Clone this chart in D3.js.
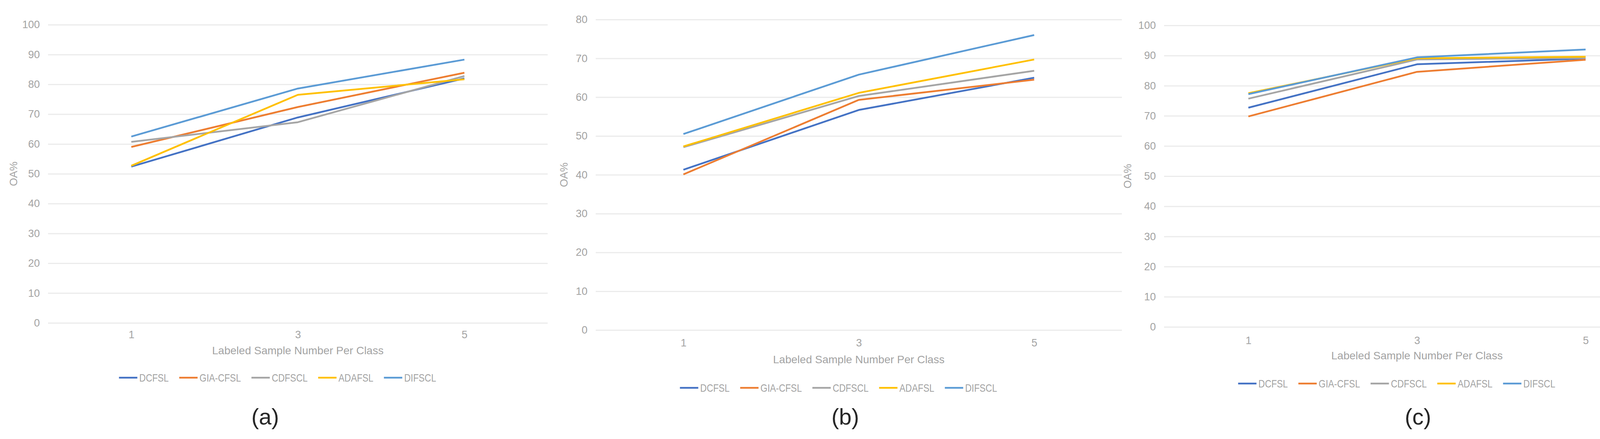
<!DOCTYPE html>
<html>
<head>
<meta charset="utf-8">
<script src="https://cdn.jsdelivr.net/npm/d3@7/dist/d3.min.js"></script>
<style>
  body { margin: 0; background: #ffffff; }
  svg { display: block; }
  text { font-family: "Liberation Sans", Arial, sans-serif; }
</style>
</head>
<body>
<svg id="figure" width="4288" height="1124"></svg>
<script>
"use strict";

var categories = ["1", "3", "5"];
var seriesNames = ["DCFSL", "GIA-CFSL", "CDFSCL", "ADAFSL", "DIFSCL"];
var seriesColors = ["#4472C4", "#ED7D31", "#A5A5A5", "#FFC000", "#5B9BD5"];

// panel (a)
var valuesA = [
  [52.4, 68.9, 82.0],
  [59.0, 72.4, 83.9],
  [60.7, 67.3, 82.8],
  [52.7, 76.5, 81.7],
  [62.5, 78.6, 88.3]
];
// panel (b)
var valuesB = [
  [41.3, 56.7, 65.0],
  [40.1, 59.3, 64.5],
  [47.1, 60.3, 66.8],
  [47.3, 61.1, 69.7],
  [50.5, 65.8, 76.0]
];
// panel (c)
var valuesC = [
  [72.7, 87.1, 89.0],
  [69.8, 84.6, 88.6],
  [75.7, 88.7, 89.2],
  [77.5, 89.1, 89.6],
  [77.2, 89.4, 92.0]
];

var yTicksA = [0, 10, 20, 30, 40, 50, 60, 70, 80, 90, 100];
var yTicksB = [0, 10, 20, 30, 40, 50, 60, 70, 80];
var yTicksC = [0, 10, 20, 30, 40, 50, 60, 70, 80, 90, 100];

var captions = ["(a)", "(b)", "(c)"];
var xTitle = "Labeled Sample Number Per Class";
var yTitle = "OA%";

var panels = [
  { values: valuesA, ticks: yTicksA, left: 123, right: 1402, top: 63.3, bottom: 826.7,
    oaX: 35, tickY: 857, titleY: 897, legendY: 967, captionX: 679 },
  { values: valuesB, ticks: yTicksB, left: 1525, right: 2872, top: 50, bottom: 845,
    oaX: 1444, tickY: 878, titleY: 920, legendY: 993, captionX: 2164 },
  { values: valuesC, ticks: yTicksC, left: 2980, right: 4275, top: 65, bottom: 837,
    oaX: 2887, tickY: 872, titleY: 910, legendY: 982, captionX: 3630 }
];

var svg = d3.select("#figure");

function drawPanel(panel, index) {
  var g = svg.append("g").attr('class', 'panel');
  var ticks = panel.ticks;

  var x = d3.scalePoint()
    .domain(categories)
    .range([panel.left, panel.right])
    .padding(0.5);

  var y = d3.scaleLinear()
    .domain([0, ticks[ticks.length - 1]])
    .range([panel.bottom, panel.top]);

  // gridlines + y labels
  var yAxis = g.append("g")
    .attr('transform', 'translate(' + panel.left + ',0)')
    .call(d3.axisLeft(y)
      .tickValues(ticks)
      .tickSize(-(panel.right - panel.left))
      .tickPadding(21)
      .tickFormat(d3.format("d")));
  yAxis.select(".domain").remove();
  yAxis.selectAll(".tick line")
    .attr('stroke', '#ebebeb')
    .attr('stroke-width', 3);
  yAxis.selectAll(".tick text")
    .attr('fill', '#a3a3a3')
    .attr('font-size', 27)
    .attr('font-family', '"Liberation Sans", Arial, sans-serif');

  // x labels
  var xAxis = g.append("g")
    .attr('transform', 'translate(0,' + panel.tickY + ')')
    .call(d3.axisBottom(x).tickSize(0).tickPadding(0));
  xAxis.select(".domain").remove();
  xAxis.selectAll(".tick text")
    .attr('y', 0)
    .attr('dy', '0.35em')
    .attr('fill', '#a3a3a3')
    .attr('font-size', 27)
    .attr('font-family', '"Liberation Sans", Arial, sans-serif');

  g.append("text")
    .attr('x', (panel.left + panel.right) / 2)
    .attr('y', panel.titleY)
    .attr('dy', '0.35em')
    .attr('text-anchor', 'middle')
    .attr('fill', '#a3a3a3')
    .attr('font-size', 28)
    .text(xTitle);

  var midY = (panel.top + panel.bottom) / 2;
  g.append("text")
    .attr('transform', 'translate(' + panel.oaX + ',' + midY + ') rotate(-90)')
    .attr('dy', '0.35em')
    .attr('text-anchor', 'middle')
    .attr('fill', '#a3a3a3')
    .attr('font-size', 27)
    .text(yTitle);

  // series
  var line = d3.line()
    .x(function (d, i) { return x(categories[i]); })
    .y(function (d) { return y(d); });

  g.selectAll("path.series")
    .data(panel.values)
    .enter()
    .append("path")
    .attr('class', 'series')
    .attr('d', line)
    .attr('fill', 'none')
    .attr('stroke', function (d, i) { return seriesColors[i]; })
    .attr('stroke-width', 4.5)
    .attr('stroke-linejoin', 'round');

  drawLegend(g, (panel.left + panel.right) / 2 - 52, panel.legendY);

  g.append("text")
    .attr('x', panel.captionX)
    .attr('y', 1067)
    .attr('dy', '0.35em')
    .attr('text-anchor', 'middle')
    .attr('fill', '#262626')
    .attr('font-size', 58)
    .text(captions[index]);
}

function drawLegend(g, centerX, legendY) {
  var squeeze = 0.82;
  var legend = g.append("g");
  var cursor = 0;

  seriesNames.forEach(function (name, i) {
    var item = legend.append("g").attr('transform', 'translate(' + cursor + ',0)');
    item.append("line")
      .attr('x1', 0).attr('x2', 47)
      .attr('y1', 0).attr('y2', 0)
      .attr('stroke', seriesColors[i])
      .attr('stroke-width', 4.5);
    var label = item.append("text")
      .attr('transform', 'translate(52,0) scale(' + squeeze + ',1)')
      .attr('dy', '0.35em')
      .attr('fill', '#a3a3a3')
      .attr('font-size', 28)
      .text(name);
    var w = label.node().getComputedTextLength() * squeeze;
    cursor += 52 + w + 27;
  });

  var total = cursor - 27;
  legend.attr('transform', 'translate(' + (centerX - total / 2) + ',' + legendY + ')');
}

panels.forEach(function (panel, i) {
  drawPanel(panel, i);
});

// faint border fragments at the right edge
svg.append("rect").attr('x', 4271).attr('y', 27).attr('width', 3).attr('height', 23).attr('fill', '#e4e4e4');
svg.append("rect").attr('x', 4271).attr('y', 1003).attr('width', 3).attr('height', 121).attr('fill', '#e4e4e4');
</script>
</body>
</html>
